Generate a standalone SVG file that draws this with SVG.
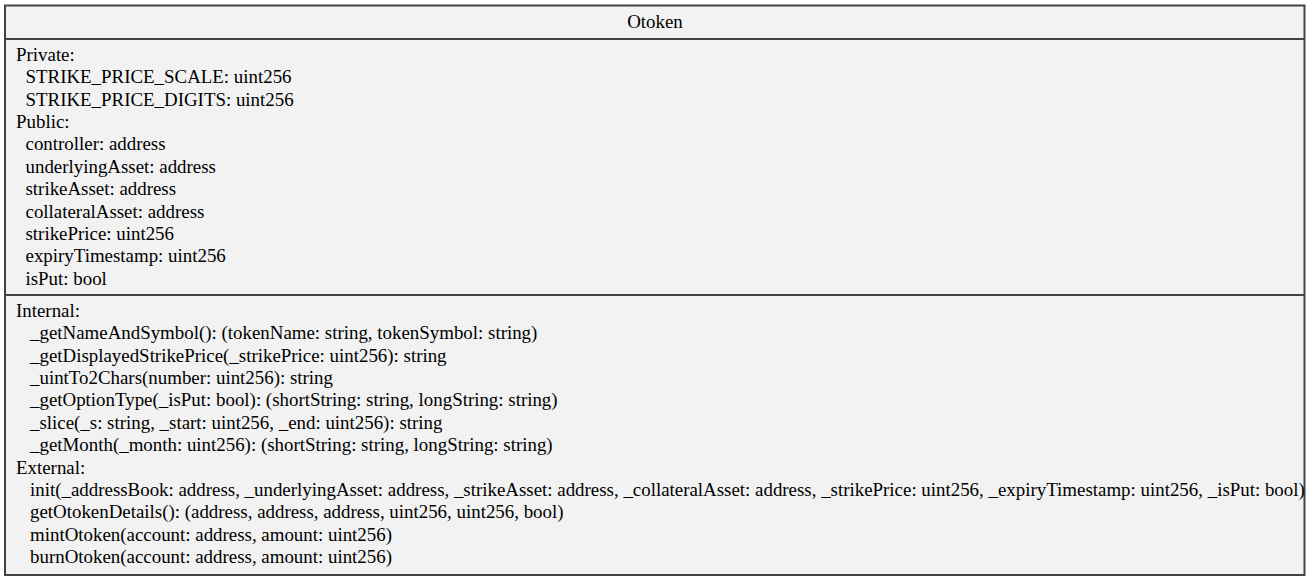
<svg xmlns="http://www.w3.org/2000/svg" width="1311" height="581" viewBox="0 0 1311 581">
  <style>
    .box { fill: #f2f2f2; stroke: #444; stroke-width: 2; }
    .sep { stroke: #444; stroke-width: 2; }
    text { font-family: "Liberation Serif", "Times New Roman", serif; font-size: 18.9px; fill: #000; }
    .title { text-anchor: middle; }
  </style>
  <rect width="1311" height="581" fill="#ffffff"/>
  <!-- UML class node: Otoken -->
  <g id="Otoken">
    <rect class="box" x="5" y="5.5" width="1299.5" height="569.5"/>
    <line class="sep" x1="5" y1="39" x2="1304.5" y2="39"/>
    <line class="sep" x1="5" y1="295" x2="1304.5" y2="295"/>
    <text class="title" x="655" y="28">Otoken</text>
    <!-- attributes -->
    <text>
      <tspan x="16" y="60.7">Private:</tspan>
      <tspan x="25.5" y="83.1">STRIKE_PRICE_SCALE: uint256</tspan>
      <tspan x="25.5" y="105.5">STRIKE_PRICE_DIGITS: uint256</tspan>
      <tspan x="16" y="127.9">Public:</tspan>
      <tspan x="25.5" y="150.3">controller: address</tspan>
      <tspan x="25.5" y="172.7">underlyingAsset: address</tspan>
      <tspan x="25.5" y="195.1">strikeAsset: address</tspan>
      <tspan x="25.5" y="217.5">collateralAsset: address</tspan>
      <tspan x="25.5" y="239.9">strikePrice: uint256</tspan>
      <tspan x="25.5" y="262.3">expiryTimestamp: uint256</tspan>
      <tspan x="25.5" y="284.7">isPut: bool</tspan>
    </text>
    <!-- operations -->
    <text>
      <tspan x="16" y="316.7">Internal:</tspan>
      <tspan x="30" y="339.1">_getNameAndSymbol(): (tokenName: string, tokenSymbol: string)</tspan>
      <tspan x="30" y="361.5">_getDisplayedStrikePrice(_strikePrice: uint256): string</tspan>
      <tspan x="30" y="383.9">_uintTo2Chars(number: uint256): string</tspan>
      <tspan x="30" y="406.3">_getOptionType(_isPut: bool): (shortString: string, longString: string)</tspan>
      <tspan x="30" y="428.7">_slice(_s: string, _start: uint256, _end: uint256): string</tspan>
      <tspan x="30" y="451.1">_getMonth(_month: uint256): (shortString: string, longString: string)</tspan>
      <tspan x="16" y="473.5">External:</tspan>
      <tspan x="30" y="495.9">init(_addressBook: address, _underlyingAsset: address, _strikeAsset: address, _collateralAsset: address, _strikePrice: uint256, _expiryTimestamp: uint256, _isPut: bool)</tspan>
      <tspan x="30" y="518.3">getOtokenDetails(): (address, address, address, uint256, uint256, bool)</tspan>
      <tspan x="30" y="540.7">mintOtoken(account: address, amount: uint256)</tspan>
      <tspan x="30" y="563.1">burnOtoken(account: address, amount: uint256)</tspan>
    </text>
  </g>
</svg>
